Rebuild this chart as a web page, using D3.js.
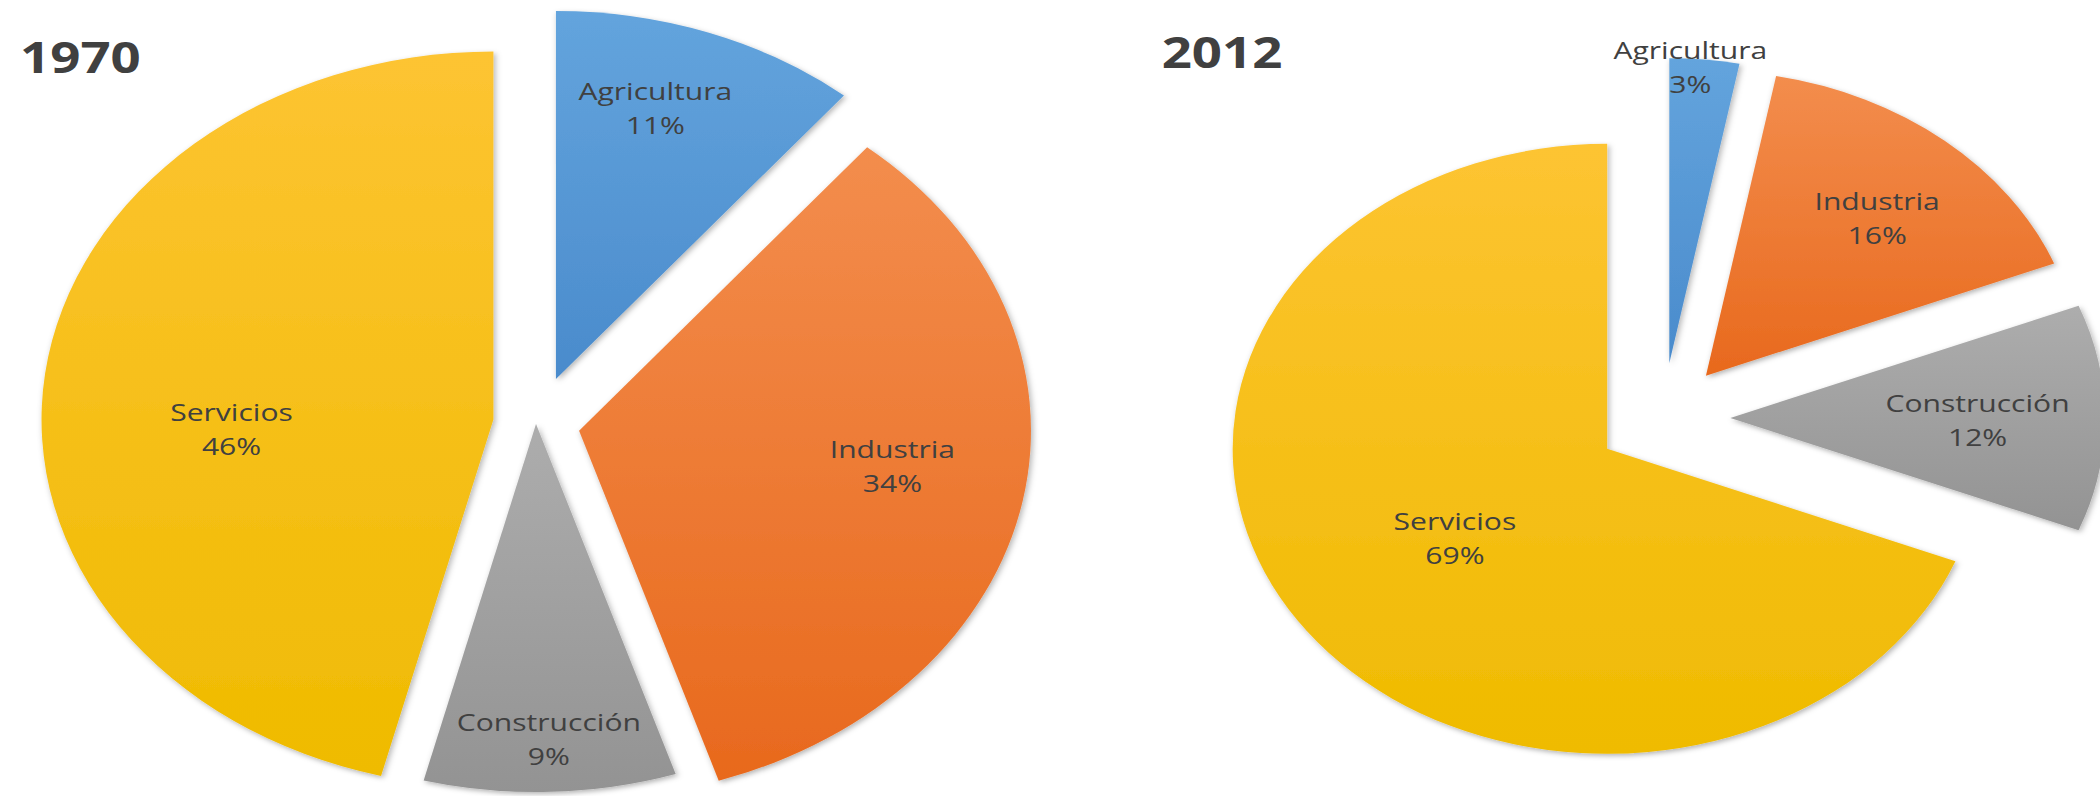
<!DOCTYPE html>
<html>
<head>
<meta charset="utf-8">
<script src="https://cdn.jsdelivr.net/npm/d3@7"></script>
<style>
  html, body { margin: 0; padding: 0; background: #ffffff; }
  svg { display: block; }
</style>
</head>
<body>
<svg id="chart" width="2100" height="796"></svg>
<script>
// Employment share by sector (%)
const sectors = ["Agricultura", "Industria", "Construcción", "Servicios"];
const years = ["1970", "2012"];
const shares1970 = [11, 34, 9, 46];
const shares2012 = [3, 16, 12, 69];

// Slice fills: light top, darker bottom
const topColors = ["#63a4dd", "#f38d4d", "#adadad", "#fdc432"];
const bottomColors = ["#4a8bcc", "#e8691d", "#939393", "#efbb00"];

// Drawing is done in a horizontally stretched frame
const stretch = 1.228;

const charts = [
  { year: years[0], values: shares1970, cx: 436.5, cy: 424, r: 368,
    explode: [0.13, 0.097, 0, 0.095],
    labelR: [0.77, 0.70, 0.855, 0.58], labelTurn: [-3.2, -2.9, -0.1, -9.5],
    titleX: 16.3, titleY: 73 },
  { year: years[1], values: shares2012, cx: 1354.2, cy: 418, r: 305,
    explode: [0.18, 0.18, 0.18, 0.18],
    labelR: [0.975, 0.69, 0.66, 0.50], labelTurn: [-2.1, 1.9, 0.6, -1.4],
    titleX: 946, titleY: 68 }
];

const svg = d3.select("#chart");
const defs = svg.append("defs");

sectors.forEach((s, i) => {
  const grad = defs.append("linearGradient")
    .attr("id", "grad" + i)
    .attr("x1", 0).attr("y1", 0).attr("x2", 0).attr("y2", 1);
  grad.append("stop").attr("offset", "0%").attr("stop-color", topColors[i]);
  grad.append("stop").attr("offset", "100%").attr("stop-color", bottomColors[i]);
});

const shadow = defs.append("filter")
  .attr("id", "sliceShadow")
  .attr("x", "-10%").attr("y", "-10%").attr("width", "120%").attr("height", "120%");
shadow.append("feDropShadow")
  .attr("dx", 1.5).attr("dy", 2).attr("stdDeviation", 2.5)
  .attr("flood-color", "#000").attr("flood-opacity", 0.3);

const root = svg.append("g").attr("transform", `scale(${stretch},1)`);

const pie = d3.pie().sort(null).value(d => d);

charts.forEach(chart => {
  const arcs = pie(chart.values);
  const arc = d3.arc().innerRadius(0).outerRadius(chart.r);
  const g = root.append("g").attr("transform", `translate(${chart.cx},${chart.cy})`);

  const slices = g.selectAll("g.slice")
    .data(arcs)
    .join("g")
    .attr("class", "slice")
    .attr("transform", (d, i) => {
      const mid = (d.startAngle + d.endAngle) / 2;
      const off = chart.explode[i] * chart.r;
      return `translate(${Math.sin(mid) * off},${-Math.cos(mid) * off})`;
    });

  slices.append("path")
    .attr("d", arc)
    .attr("fill", (d, i) => `url(#grad${i})`)
    .attr("filter", "url(#sliceShadow)");

  slices.append("text")
    .attr("text-anchor", "middle")
    .attr("font-family", "'Open Sans', 'Noto Sans', sans-serif")
    .attr("font-size", 24.5)
    .attr("fill", "#404040")
    .each(function (d, i) {
      const ang = (d.startAngle + d.endAngle) / 2 + chart.labelTurn[i] * Math.PI / 180;
      const lr = chart.labelR[i] * chart.r;
      const x = Math.sin(ang) * lr;
      const y = -Math.cos(ang) * lr;
      const t = d3.select(this);
      t.append("tspan").attr("x", x).attr("y", y - 17)
        .attr("dominant-baseline", "central").text(sectors[i]);
      t.append("tspan").attr("x", x).attr("y", y + 17)
        .attr("dominant-baseline", "central").text(d.data + "%");
    });

  root.append("text")
    .attr("x", chart.titleX)
    .attr("y", chart.titleY)
    .attr("font-family", "'Open Sans', 'Noto Sans', sans-serif")
    .attr("font-weight", "bold")
    .attr("font-size", 43)
    .attr("fill", "#404040")
    .text(chart.year);
});
</script>
</body>
</html>
